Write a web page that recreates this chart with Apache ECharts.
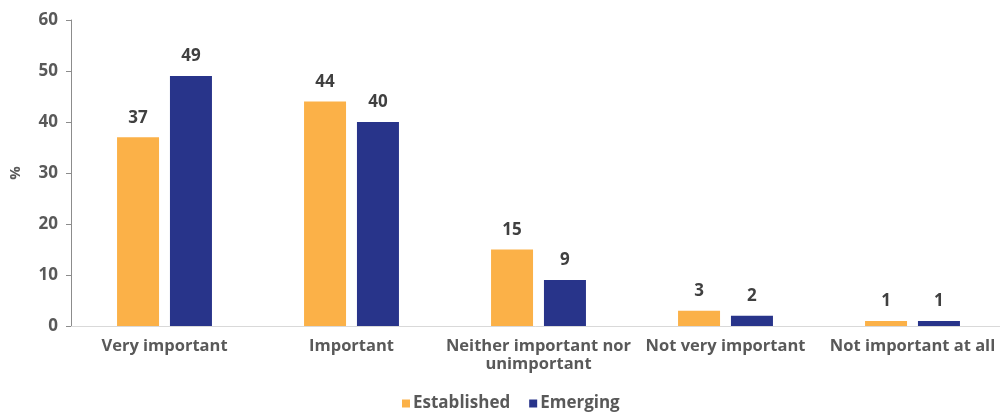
<!DOCTYPE html>
<html>
<head>
<meta charset="utf-8">
<script src="https://cdn.jsdelivr.net/npm/echarts@6/dist/echarts.min.js"></script>
<style>
  html, body { margin: 0; padding: 0; background: #fff; }
  #chart { width: 1000px; height: 412px; }
</style>
</head>
<body>
<div id="chart"></div>
<script>
const categories = ['Very important', 'Important', 'Neither important nor\nunimportant', 'Not very important', 'Not important at all'];
const established = [37, 44, 15, 3, 1];
const emerging = [49, 40, 9, 2, 1];
const seriesNames = ['Established', 'Emerging'];

const FONT = '"Open Sans"';
const TEXT = '#404040';
const GREY = '#595959';

const chart = echarts.init(document.getElementById('chart'), null, { renderer: 'canvas' });

const labelStyle = {
  show: true,
  position: 'top',
  distance: 11,
  color: TEXT,
  fontFamily: FONT,
  fontWeight: 'bold',
  fontSize: 17
};

chart.setOption({
  animation: false,
  // plot band runs slightly past the right edge of the canvas
  grid: { left: 71, width: 935, top: 20, bottom: 86, containLabel: false, outerBoundsMode: 'none' },
  legend: {
    top: 390,
    left: 397,
    itemWidth: 8,
    itemHeight: 8,
    itemGap: 19,
    icon: 'rect',
    textStyle: { color: GREY, fontFamily: FONT, fontWeight: 'bold', fontSize: 17, padding: [0, 0, 0, -2] },
    data: seriesNames
  },
  xAxis: {
    type: 'category',
    data: categories,
    axisLine: { lineStyle: { color: '#d9d9d9', width: 1 } },
    axisTick: { show: false },
    axisLabel: {
      color: GREY,
      fontFamily: FONT,
      fontWeight: 'bold',
      fontSize: 16.5,
      lineHeight: 18,
      margin: 11,
      interval: 0
    }
  },
  yAxis: {
    type: 'value',
    min: 0,
    max: 60,
    interval: 10,
    name: '%',
    nameLocation: 'middle',
    nameGap: 48,
    nameRotate: 90,
    nameTextStyle: { color: GREY, fontFamily: FONT, fontWeight: 'bold', fontSize: 15 },
    axisLine: { show: true, lineStyle: { color: '#8c8c8c', width: 1 } },
    axisTick: { show: true, length: 5, lineStyle: { color: '#8c8c8c' } },
    splitLine: { show: false },
    axisLabel: { color: GREY, fontFamily: FONT, fontWeight: 'bold', fontSize: 17, margin: 13 }
  },
  series: [
    {
      name: seriesNames[0],
      type: 'bar',
      data: established,
      barWidth: 42,
      barGap: '26%',
      itemStyle: { color: '#FBB148' },
      label: labelStyle
    },
    {
      name: seriesNames[1],
      type: 'bar',
      data: emerging,
      barWidth: 42,
      itemStyle: { color: '#28348A' },
      label: labelStyle
    }
  ]
});
</script>
</body>
</html>
